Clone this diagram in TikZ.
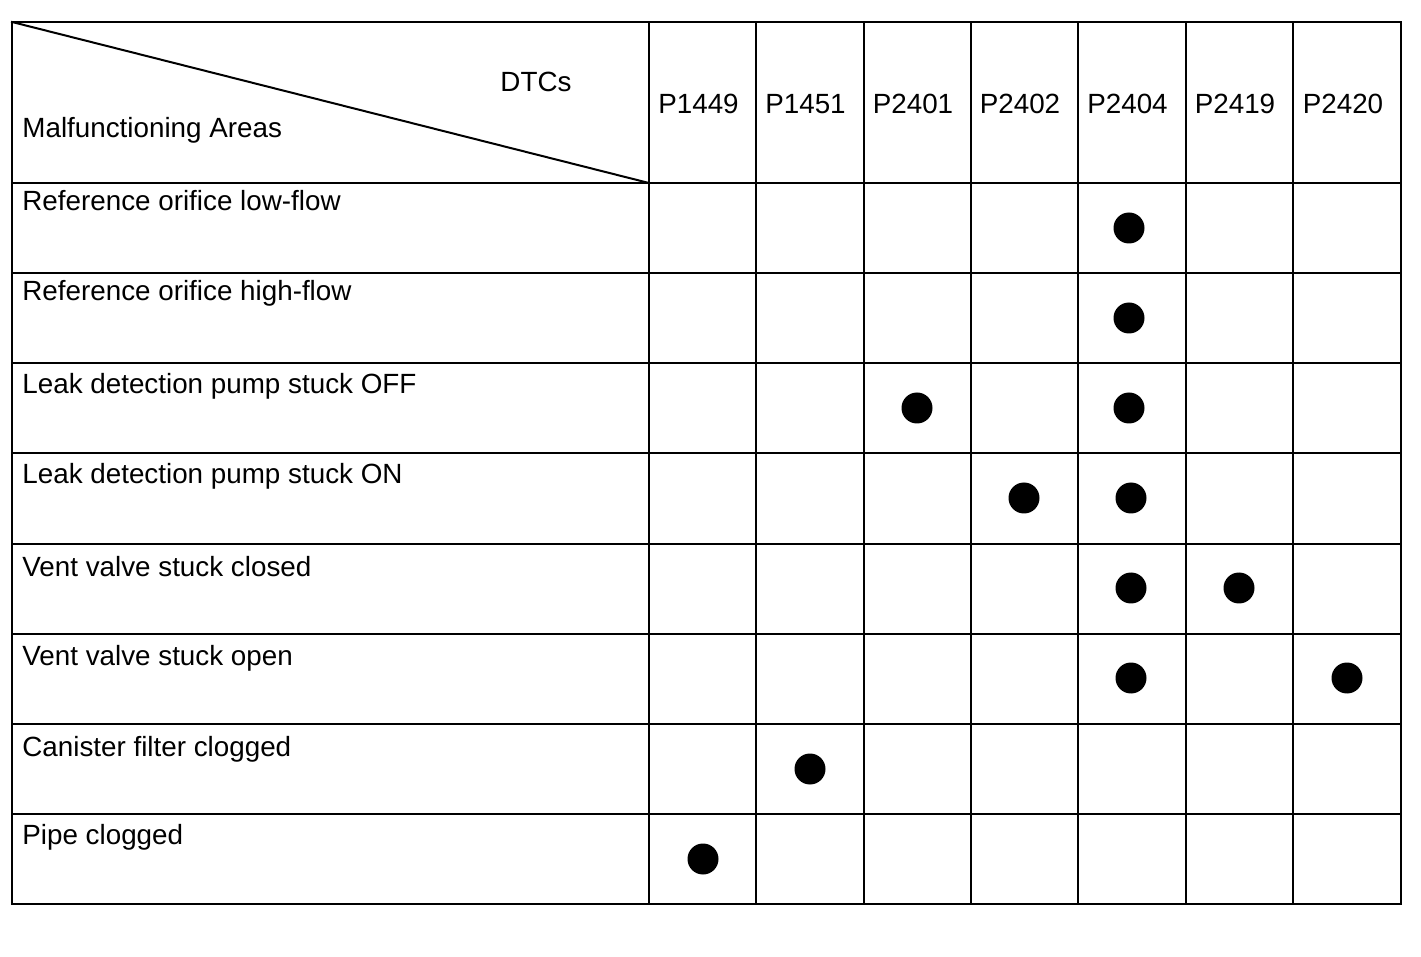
\documentclass[tikz,border=0pt]{standalone}
\usepackage{fontspec}
\setmainfont{Liberation Sans}
\tikzset{
griglia/.style={line width=1pt,line cap=rect},
voce/.style={anchor=base west,inner sep=0pt,font=\fontsize{13.9}{16}\selectfont},
codice/.style={anchor=base,inner sep=0pt,font=\fontsize{13.9}{16}\selectfont},
pallino/.style={circle,fill=black,inner sep=0pt,minimum size=15.5pt}}

\begin{document}
\begin{tikzpicture}[x=0.5pt,y=-0.5pt]

\useasboundingbox (0,0) rectangle (1421,957);

% table frame and grid
\draw[griglia] (12,22) rectangle (1401,904);
\draw[griglia] (649,22) -- (649,904);
\draw[griglia] (756,22) -- (756,904);
\draw[griglia] (864,22) -- (864,904);
\draw[griglia] (971,22) -- (971,904);
\draw[griglia] (1078,22) -- (1078,904);
\draw[griglia] (1186,22) -- (1186,904);
\draw[griglia] (1293,22) -- (1293,904);
\draw[griglia] (12,183) -- (1401,183);
\draw[griglia] (12,273) -- (1401,273);
\draw[griglia] (12,363) -- (1401,363);
\draw[griglia] (12,453) -- (1401,453);
\draw[griglia] (12,544) -- (1401,544);
\draw[griglia] (12,634) -- (1401,634);
\draw[griglia] (12,724) -- (1401,724);
\draw[griglia] (12,814) -- (1401,814);
\draw[griglia] (12,22) -- (649,183);

% header
\node[codice] (dtc) at (536,92) {DTCs};
\node[voce] (aree) at (22,138) {Malfunctioning Areas};
\node[codice] (c1449) at (698.5,114) {P1449};
\node[codice] (c1451) at (805.5,114) {P1451};
\node[codice] (c2401) at (913,114) {P2401};
\node[codice] (c2402) at (1020,114) {P2402};
\node[codice] (c2404) at (1127.5,114) {P2404};
\node[codice] (c2419) at (1235,114) {P2419};
\node[codice] (c2420) at (1343,114) {P2420};

% rows
\node[voce] (r1) at (22,211) {Reference orifice low-flow};
\node[voce] (r2) at (22,301) {Reference orifice high-flow};
\node[voce] (r3) at (22,394) {Leak detection pump stuck OFF};
\node[voce] (r4) at (22,484) {Leak detection pump stuck ON};
\node[voce] (r5) at (22,576) {Vent valve stuck closed};
\node[voce] (r6) at (22,665) {Vent valve stuck open};
\node[voce] (r7) at (22,756) {Canister filter clogged};
\node[voce] (r8) at (22,844) {Pipe clogged};

% marks
\node[pallino] (m1) at (1129,228) {};
\node[pallino] (m2) at (1129,318) {};
\node[pallino] (m3) at (917,408) {};
\node[pallino] (m4) at (1129,408) {};
\node[pallino] (m5) at (1024,498) {};
\node[pallino] (m6) at (1131,498) {};
\node[pallino] (m7) at (1131,588) {};
\node[pallino] (m8) at (1239,588) {};
\node[pallino] (m9) at (1131,678) {};
\node[pallino] (m10) at (1347,678) {};
\node[pallino] (m11) at (810,769) {};
\node[pallino] (m12) at (703,859) {};

\end{tikzpicture}
\end{document}
